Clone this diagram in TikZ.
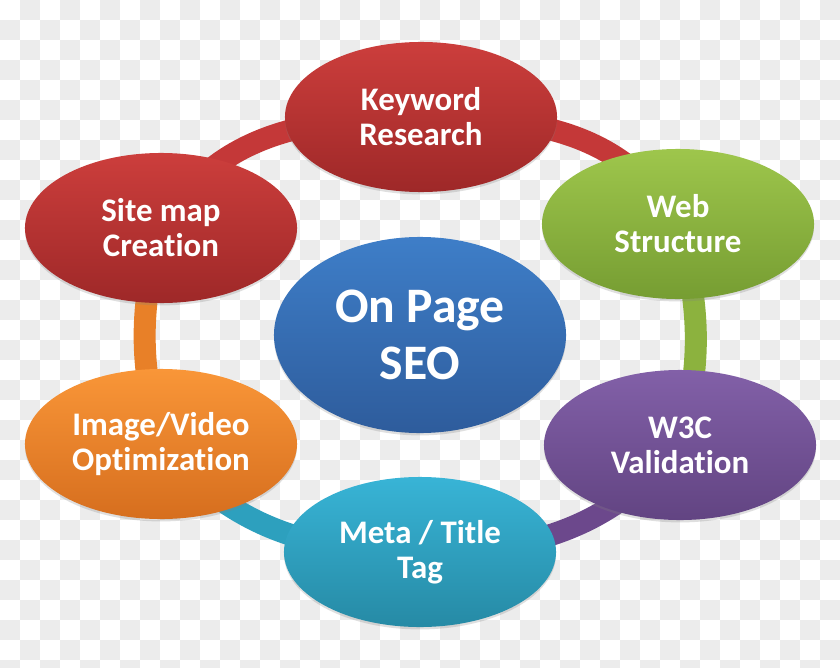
\documentclass[tikz,border=0pt]{standalone}
\usepackage{fontspec}
\setmainfont{Carlito}[Ligatures=CommonOff]
\usetikzlibrary{shapes.geometric,shadows}

\definecolor{checker}{RGB}{236,236,236}
\definecolor{redtop}{RGB}{204,62,60}
\definecolor{redbot}{RGB}{158,40,40}
\definecolor{redband}{RGB}{196,56,56}
\definecolor{greentop}{RGB}{158,198,76}
\definecolor{greenbot}{RGB}{118,157,50}
\definecolor{greenband}{RGB}{140,178,62}
\definecolor{purpletop}{RGB}{130,96,168}
\definecolor{purplebot}{RGB}{98,68,130}
\definecolor{purpleband}{RGB}{108,72,140}
\definecolor{cyantop}{RGB}{56,180,214}
\definecolor{cyanbot}{RGB}{38,138,165}
\definecolor{cyanband}{RGB}{45,160,190}
\definecolor{orangetop}{RGB}{249,150,56}
\definecolor{orangebot}{RGB}{214,110,30}
\definecolor{orangeband}{RGB}{232,128,40}
\definecolor{bluetop}{RGB}{62,126,200}
\definecolor{bluebot}{RGB}{46,92,156}

\newcommand\topicfont{\fontsize{23.4pt}{24.9pt}\selectfont\bfseries}
\newcommand\hubfont{\fontsize{35.3pt}{40.5pt}\selectfont\bfseries}

\pgfdeclarelayer{grid}
\pgfdeclarelayer{ring}
\pgfsetlayers{grid,ring,main}

\begin{document}
\begin{tikzpicture}[x=0.025cm, y=0.025cm,
    topic/.style={ellipse, minimum width=6.8cm, minimum height=3.75cm, inner sep=0pt,
        text=white, align=center, font=\topicfont,
        drop shadow={shadow xshift=0pt, shadow yshift=-0.06cm, opacity=0.25}},
    hub/.style={topic, minimum width=7.3cm, minimum height=4.9cm, font=\hubfont},
    band/.style={line width=0.55cm}]
        \useasboundingbox (0,0) rectangle (840,667);
        % transparent background grid
        \begin{pgfonlayer}{grid}
            \fill[white] (0,0) rectangle (840,667);
            \clip (0,0) rectangle (840,667);
            \foreach \i in {0,...,41}
                \foreach \j in {0,...,33}{
                    \pgfmathtruncatemacro\odd{mod(\i+\j,2)}
                    \ifnum\odd=1 \fill[checker] (20*\i,667-20*\j) rectangle ++(20,-20); \fi
                }
        \end{pgfonlayer}

        \node [hub, top color=bluetop, bottom color=bluebot] (seo) at (420,332) {On Page\\SEO};
        \node [topic, top color=redtop, bottom color=redbot] (kw) at (421,550) {Keyword\\Research};
        \node [topic, top color=greentop, bottom color=greenbot] (web) at (678,443) {Web\\Structure};
        \node [topic, top color=purpletop, bottom color=purplebot] (w3c) at (680,222) {W3C\\Validation};
        \node [topic, top color=cyantop, bottom color=cyanbot] (meta) at (420,115) {Meta / Title\\Tag};
        \node [topic, top color=orangetop, bottom color=orangebot] (img) at (161,223) {Image/Video\\Optimization};
        \node [topic, top color=redtop, bottom color=redbot] (site) at (161,439) {Site map\\Creation};

        % ring behind the ellipses
        \begin{pgfonlayer}{ring}
            \draw[band, redband] (kw.center) to[out=0, in=120] (web.center);
            \draw[band, greenband] (web.center) to[out=-75, in=75] (w3c.center);
            \draw[band, purpleband] (w3c.center) to[out=-130, in=0] (meta.center);
            \draw[band, cyanband] (meta.center) to[out=180, in=-50] (img.center);
            \draw[band, orangeband] (img.center) to[out=105, in=-105] (site.center);
            \draw[band, redband] (site.center) to[out=60, in=180] (kw.center);
        \end{pgfonlayer}

    \end{tikzpicture}
\end{document}
